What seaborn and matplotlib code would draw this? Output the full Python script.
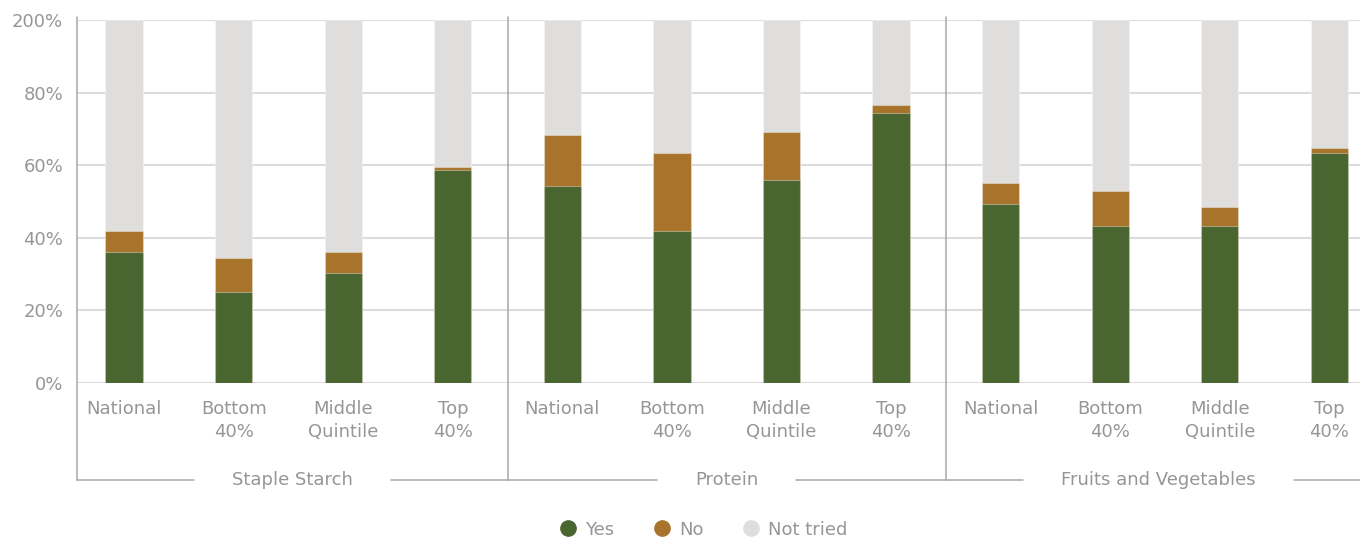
import matplotlib
matplotlib.use("Agg")
import matplotlib.pyplot as plt
import numpy as np
import pandas as pd
import seaborn as sns
from matplotlib.lines import Line2D

# Survey shares (%) per food group and wealth segment
groups = ["Staple Starch", "Protein", "Fruits and Vegetables"]
segments = ["National", "Bottom\n40%", "Middle\nQuintile", "Top\n40%"]
yes_pct = [36.0, 25.0, 30.2, 58.8, 54.4, 42.0, 55.9, 74.3, 49.3, 43.3, 43.3, 63.3]
no_pct = [5.9, 9.5, 5.8, 0.7, 14.0, 21.3, 13.2, 2.2, 5.8, 9.7, 5.2, 1.5]
not_tried_pct = [58.1, 65.5, 64.0, 40.5, 31.6, 36.7, 30.9, 23.5, 44.9, 47.0, 51.5, 35.2]
y_ticks = [0, 20, 40, 60, 80, 100]
y_tick_labels = ["0%", "20%", "40%", "60%", "80%", "200%"]
series_names = ["Yes", "No", "Not tried"]

GREEN = "#4A6630"
BROWN = "#A8742C"
LIGHT = "#DFDEDC"
TEXT = "#969696"
LINE = "#A8A8A8"
GRID = "#DCDCDC"
FS = 13

sns.set_theme(style="white")
plt.rcParams["font.family"] = ["DejaVu Sans"]

n_seg = len(segments)
pos = np.arange(len(groups) * n_seg, dtype=float)
df = pd.DataFrame({
    "pos": pos,
    "yes": yes_pct,
    "no": no_pct,
    "not_tried": not_tried_pct,
})
df["top_no"] = df["yes"] + df["no"]
df["top_all"] = df["top_no"] + df["not_tried"]

fig = plt.figure(figsize=(13.6, 5.4), dpi=100)
ax = fig.add_axes([77 / 1360, 157 / 540, (1371 - 77) / 1360, 363 / 540])

bar_w = 0.34
edge = (1, 1, 1, 0.35)
for col, colour in [("top_all", LIGHT), ("top_no", BROWN), ("yes", GREEN)]:
    sns.barplot(data=df, x="pos", y=col, native_scale=True, width=bar_w,
                color=colour, saturation=1, edgecolor=edge, linewidth=0.8,
                errorbar=None, ax=ax, zorder=3)

x_left, x_right = -0.43, 11.38
ax.set_xlim(x_left, x_right)
ax.set_ylim(0, 100)

ax.set_yticks(y_ticks, labels=y_tick_labels)
ax.set_xticks(pos, labels=segments * len(groups))
ax.tick_params(axis="x", length=0, pad=12, labelsize=FS, labelcolor=TEXT)
ax.tick_params(axis="y", length=0, pad=10, labelsize=FS, labelcolor=TEXT)
for lab in ax.get_xticklabels():
    lab.set_multialignment("center")
    lab.set_linespacing(1.36)
ax.set_xlabel("")
ax.set_ylabel("")

ax.yaxis.grid(True, color=GRID, linewidth=1.5)
ax.set_axisbelow(True)
for s in ax.spines.values():
    s.set_visible(False)

trans = ax.get_xaxis_transform()
y_bracket = (383 - 480) / 363

# Vertical frame and group separators
bounds = [x_left] + [g * n_seg - 0.5 for g in range(1, len(groups))] + [x_right]
for xb in bounds[:-1]:
    ax.add_line(Line2D([xb, xb], [y_bracket, 1.008], transform=trans,
                       color=LINE, linewidth=1.1, clip_on=False))

# Group labels with bracket lines on either side
texts = []
for g, name in enumerate(groups):
    xc = (bounds[g] + bounds[g + 1]) / 2
    t = ax.text(xc, y_bracket, name, transform=trans, ha="center", va="center",
                fontsize=FS, color=TEXT)
    texts.append(t)

fig.canvas.draw()
renderer = fig.canvas.get_renderer()
gap = 38 / 109.6
inv = ax.transData.inverted()
for g, t in enumerate(texts):
    bb = t.get_window_extent(renderer)
    xl = inv.transform((bb.x0, 0))[0]
    xr = inv.transform((bb.x1, 0))[0]
    ax.add_line(Line2D([bounds[g], xl - gap], [y_bracket, y_bracket], transform=trans,
                       color=LINE, linewidth=1.1, clip_on=False))
    ax.add_line(Line2D([xr + gap, bounds[g + 1]], [y_bracket, y_bracket], transform=trans,
                       color=LINE, linewidth=1.1, clip_on=False))

handles = [Line2D([], [], marker="o", linestyle="", markersize=11, color=c)
           for c in (GREEN, BROWN, LIGHT)]
fig.legend(handles, series_names, loc="center", bbox_to_anchor=(0.517, 0.019),
           ncol=3, frameon=False, fontsize=FS, labelcolor=TEXT,
           handletextpad=0.45, columnspacing=2.15, handlelength=1.0)

fig.savefig("out.png", dpi=100)
